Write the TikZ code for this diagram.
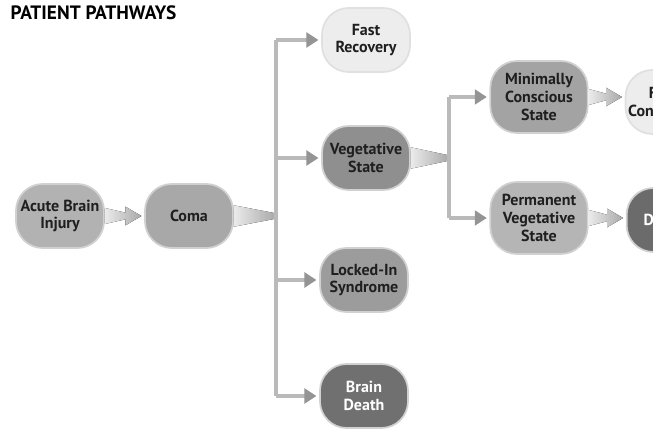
\documentclass[tikz,border=0pt]{standalone}
\usepackage{fontspec}
\setmainfont{PT Sans}
\usetikzlibrary{arrows.meta}
\begin{document}
\begin{tikzpicture}[x=0.75pt,y=-0.75pt,
  state/.style={draw=black!18,line width=1.3pt,rounded corners=20pt,minimum width=66pt,minimum height=48pt,
    align=center,inner sep=2pt,text=black!88,font=\bfseries\fontsize{12}{13.2}\selectfont},
  big/.style={minimum width=73pt,minimum height=54pt},
  trunk/.style={draw=black!27,line width=3.5pt},
  branch/.style={draw=black!27,line width=3.5pt,-{Triangle[length=9pt,width=11pt,color=black!42]},shorten >=2pt},
  wedge/.style={left color=black!8,right color=black!34,draw=none}]
\useasboundingbox (0,0) rectangle (653,434);
\clip (0,0) rectangle (653,434);

\node[anchor=west,font=\bfseries\fontsize{14.5}{14.5}\selectfont] (title) at (6,13) {PATIENT PATHWAYS};

% start
\node[state,fill=black!30] (injury) at (60,216) {Acute Brain\\Injury};
\node[state,fill=black!34] (coma) at (189,216) {Coma};

% first branching
\node[state,fill=black!7,draw=black!12] (fast) at (366,40) {Fast\\Recovery};
\node[state,fill=black!44] (veg) at (366,158) {Vegetative\\State};
\node[state,fill=black!39] (locked) at (364,280) {Locked-In\\Syndrome};
\node[state,fill=black!56,text=white] (bdeath) at (364,396) {Brain\\Death};

% second branching
\node[state,big,fill=black!36] (mcs) at (539,97) {Minimally\\Conscious\\State};
\node[state,big,fill=black!29] (pvs) at (539,218) {Permanent\\Vegetative\\State};
\node[state,minimum width=52pt,fill=black!7,draw=black!12] (full) at (662,102) {Full\\Conscious};
\node[state,minimum width=56pt,fill=black!58,text=white] (dead) at (664,220) {Death};

\coordinate (j1) at (276,216);
\coordinate (j2) at (449,158);

% injury -> coma
\fill[wedge] ([yshift=6pt]injury.east) -- ([xshift=-14pt,yshift=2.5pt]coma.west) -- ([xshift=-14pt,yshift=7pt]coma.west)
  -- ([xshift=-2pt]coma.west) -- ([xshift=-14pt,yshift=-7pt]coma.west) -- ([xshift=-14pt,yshift=-2.5pt]coma.west)
  -- ([yshift=-6pt]injury.east) -- cycle;

% coma -> trunk
\fill[wedge] ([yshift=8pt]coma.east) -- ([yshift=2pt]j1) -- ([yshift=-2pt]j1) -- ([yshift=-8pt]coma.east) -- cycle;
\draw[trunk] (j1 |- fast.west) -- (j1 |- bdeath.west);
\draw[branch] (j1 |- fast.west) -- (fast.west);
\draw[branch] (j1 |- veg.west) -- (veg.west);
\draw[branch] (j1 |- locked.west) -- (locked.west);
\draw[branch] (j1 |- bdeath.west) -- (bdeath.west);

% vegetative -> trunk
\fill[wedge] ([yshift=8pt]veg.east) -- ([yshift=2pt]j2) -- ([yshift=-2pt]j2) -- ([yshift=-8pt]veg.east) -- cycle;
\draw[trunk] (j2 |- mcs.west) -- (j2 |- pvs.west);
\draw[branch] (j2 |- mcs.west) -- (mcs.west);
\draw[branch] (j2 |- pvs.west) -- (pvs.west);

% last steps
\fill[wedge] ([yshift=6pt]mcs.east) -- ([xshift=-14pt,yshift=2.5pt]full.west |- mcs.east) -- ([xshift=-14pt,yshift=7pt]full.west |- mcs.east)
  -- ([xshift=-2pt]full.west |- mcs.east) -- ([xshift=-14pt,yshift=-7pt]full.west |- mcs.east) -- ([xshift=-14pt,yshift=-2.5pt]full.west |- mcs.east)
  -- ([yshift=-6pt]mcs.east) -- cycle;
\fill[wedge] ([yshift=6pt]pvs.east) -- ([xshift=-14pt,yshift=2.5pt]dead.west |- pvs.east) -- ([xshift=-14pt,yshift=7pt]dead.west |- pvs.east)
  -- ([xshift=-2pt]dead.west |- pvs.east) -- ([xshift=-14pt,yshift=-7pt]dead.west |- pvs.east) -- ([xshift=-14pt,yshift=-2.5pt]dead.west |- pvs.east)
  -- ([yshift=-6pt]pvs.east) -- cycle;
\end{tikzpicture}
\end{document}
